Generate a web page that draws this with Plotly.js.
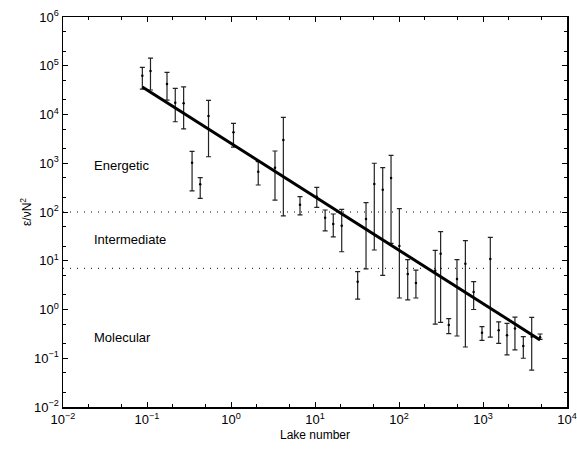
<!DOCTYPE html>
<html>
<head>
<meta charset="utf-8">
<script src="https://cdn.plot.ly/plotly-3.0.1.min.js"></script>
<style>html,body{margin:0;padding:0;background:#fff;}#chart{width:577px;height:450px;}</style>
</head>
<body>
<div id="chart"></div>
<script>
// Lake number (x)
const lakeNumber = [0.088, 0.11, 0.173, 0.217, 0.273, 0.344, 0.43, 0.54, 1.07, 2.11, 3.34, 4.2, 6.63, 10.5, 13.2, 16.5, 20.8,
  32.2, 40.5, 50.8, 64, 80.4, 101, 127, 159, 270, 313, 391, 490, 617, 774, 973, 1222, 1537, 1930, 2400, 3020, 3800, 4780];
// epsilon / (nu N^2), central values
const dissipation = [62500, 78000, 42200, 17500, 17000, 1025, 370, 9300, 4300, 671, 811, 3000, 141, 206, 76, 57, 52,
  3.72, 72, 375, 287, 498, 20, 5.35, 3.5, 6.2, 14, 0.48, 4.2, 8.7, 2.29, 0.334, 10.9, 0.374, 0.295, 0.41, 0.178, 0.277, 0.27];
// upper ends of error bars
const upperBound = [93000, 144000, 73400, 34400, 37000, 1760, 506, 19500, 6600, 1077, 1782, 8770, 206, 321, 110, 91, 113,
  5.97, 155, 1000, 811, 1455, 117, 10.5, 6.4, 16.4, 39.5, 0.65, 10.5, 25.8, 3.72, 0.444, 30.3, 0.56, 0.52, 0.70, 0.277, 0.69, 0.314];
// lower ends of error bars
const lowerBound = [33000, 31800, 19800, 7100, 5050, 270, 191, 1360, 2150, 358, 176, 83, 87, 125, 41, 31, 15.3,
  1.64, 6.8, 16.6, 5.0, 22.8, 1.72, 1.58, 1.72, 0.5, 0.546, 0.32, 0.286, 0.17, 1.0, 0.233, 0.27, 0.202, 0.117, 0.148, 0.1, 0.057, 0.244];
// power-law fit: y = fitCoef * x^fitSlope
const fitCoef = 2560;
const fitSlope = -1.096;
// regime boundaries
const regimeBounds = [100, 7];
const regimeNames = ["Energetic", "Intermediate", "Molecular"];
const regimeLabelY = [920, 27, 0.27];
const regimeLabelX = 0.022;
const xTickVals = [0.01, 0.1, 1, 10, 100, 1000, 10000];
const xTickText = ["10<sup>−2</sup>", "10<sup>−1</sup>", "10<sup>0</sup>", "10<sup>1</sup>", "10<sup>2</sup>", "10<sup>3</sup>", "10<sup>4</sup>"];
const yTickVals = [0.01, 0.1, 1, 10, 100, 1000, 10000, 100000, 1000000];
const yTickText = ["10<sup>−2</sup>", "10<sup>−1</sup>", "10<sup>0</sup>", "10<sup>1</sup>", "10<sup>2</sup>", "10<sup>3</sup>", "10<sup>4</sup>", "10<sup>5</sup>", "10<sup>6</sup>"];

const errPlus = dissipation.map((v, i) => upperBound[i] - v);
const errMinus = dissipation.map((v, i) => v - lowerBound[i]);
const xMin = Math.min(...lakeNumber), xMax = Math.max(...lakeNumber);
const fitX = [xMin, xMax];
const fitY = fitX.map(x => fitCoef * Math.pow(x, fitSlope));

const traces = [
  {
    x: lakeNumber, y: dissipation, type: 'scatter', mode: 'markers',
    marker: {color: '#000', size: 2.5},
    error_y: {type: 'data', symmetric: false, array: errPlus, arrayminus: errMinus,
      color: '#222', thickness: 1.2, width: 2.5},
    hoverinfo: 'x+y', showlegend: false
  },
  {
    x: fitX, y: fitY, type: 'scatter', mode: 'lines',
    line: {color: '#000', width: 3}, showlegend: false
  }
];

const font = {family: 'Liberation Sans, Arial, Helvetica, sans-serif', size: 12, color: '#000'};
const axisCommon = {
  type: 'log', showgrid: false, zeroline: false, showline: true, linecolor: '#000', linewidth: 1.5,
  mirror: 'allticks', ticks: 'inside', ticklen: 5, tickcolor: '#000', tickwidth: 1,
  tickmode: 'array', tickfont: {family: font.family, size: 13, color: '#000'},
  minor: {ticks: 'inside', ticklen: 3, tickcolor: '#000', showgrid: false}
};

const layout = {
  width: 577, height: 450,
  margin: {l: 63, r: 10, t: 17, b: 43},
  paper_bgcolor: '#fff', plot_bgcolor: '#fff',
  font: font,
  xaxis: Object.assign({}, axisCommon, {
    range: [-2, 4], tickvals: xTickVals, ticktext: xTickText,
    title: {text: 'Lake number', font: {family: font.family, size: 12, color: '#000'}, standoff: 4}
  }),
  yaxis: Object.assign({}, axisCommon, {
    range: [-2, 6], tickvals: yTickVals, ticktext: yTickText,
    title: {text: 'ε/νN<sup>2</sup>', font: {family: font.family, size: 12, color: '#000'}, standoff: 0}
  }),
  shapes: regimeBounds.map(v => ({
    type: 'line', xref: 'paper', yref: 'y', x0: 0, x1: 1, y0: v, y1: v,
    line: {color: '#000', width: 1, dash: '1px,6px'}, layer: 'below'
  })),
  annotations: regimeNames.map((t, i) => ({
    text: t, xref: 'x', yref: 'y', x: Math.log10(regimeLabelX), y: Math.log10(regimeLabelY[i]),
    xanchor: 'left', yanchor: 'middle', showarrow: false,
    font: {family: font.family, size: 13, color: '#000'}
  }))
};

Plotly.newPlot('chart', traces, layout, {staticPlot: true, displayModeBar: false});
</script>
</body>
</html>
